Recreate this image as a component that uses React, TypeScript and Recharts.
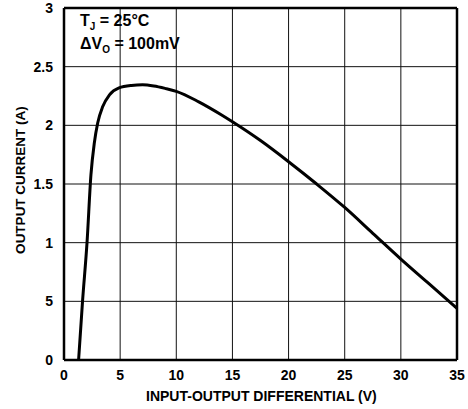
import { LineChart, Line, XAxis, YAxis, CartesianGrid, ReferenceLine } from "recharts";

const vin = [1.3, 1.65, 2.05, 2.4, 2.7, 3.0, 3.45, 4.05, 4.9, 6, 7, 8, 9, 10, 12, 14, 15, 17.5, 20, 22.5, 25, 27.5, 30, 32.5, 35];
const iout = [0, 0.5, 1.0, 1.58, 1.85, 2.02, 2.16, 2.26, 2.32, 2.34, 2.345, 2.335, 2.315, 2.29, 2.2, 2.09, 2.03, 1.87, 1.69, 1.5, 1.3, 1.08, 0.86, 0.65, 0.44];
const xTicks = [0, 5, 10, 15, 20, 25, 30, 35];
const yTicks = [0, 0.5, 1, 1.5, 2, 2.5, 3];
const yLabels = ["0", "5", "1", "1.5", "2", "2.5", "3"];

const data = vin.map((v, i) => ({ v, i: iout[i] }));
const font = "'Liberation Sans', Arial, sans-serif";

export default function App() {
  const tick = { fill: "#000", fontSize: 14, fontWeight: 700, fontFamily: font };
  return (
    <div style={{ position: "absolute", left: 0, top: 0, width: 468, height: 409, background: "#fff" }}>
      <LineChart width={468} height={409} data={data} margin={{ top: 8, right: 11, bottom: 0, left: 0 }}>
        <CartesianGrid stroke="#111" strokeWidth={1} horizontalValues={yTicks} verticalValues={xTicks} />
        <XAxis type="number" dataKey="v" domain={[0, 35]} ticks={xTicks} tickLine={false} height={49}
          axisLine={{ stroke: "#000", strokeWidth: 2.5 }} tick={tick} tickMargin={4} />
        <YAxis type="number" domain={[0, 3]} ticks={yTicks} tickLine={false} width={64}
          axisLine={{ stroke: "#000", strokeWidth: 2.5 }} tick={tick} tickMargin={5}
          tickFormatter={(v: number) => yLabels[yTicks.indexOf(v)]} />
        <ReferenceLine x={35} stroke="#000" strokeWidth={2.5} />
        <ReferenceLine y={3} stroke="#000" strokeWidth={2.5} />
        <Line type="monotone" dataKey="i" stroke="#000" strokeWidth={3} dot={false} isAnimationActive={false} />
      </LineChart>
      <div style={{ position: "absolute", left: 80, top: 10, fontFamily: font, fontWeight: 700, fontSize: 16, lineHeight: "21px", color: "#000", whiteSpace: "nowrap" }}>
        <div>T<span style={{ fontSize: 10, position: "relative", top: 4 }}>J</span> = 25°C</div>
        <div>ΔV<span style={{ fontSize: 10, position: "relative", top: 4 }}>O</span> = 100mV</div>
      </div>
      <div style={{ position: "absolute", left: 146, top: 388, fontFamily: font, fontWeight: 700, fontSize: 14, color: "#000", whiteSpace: "nowrap" }}>
        INPUT-OUTPUT DIFFERENTIAL (V)
      </div>
      <div style={{ position: "absolute", left: 20, top: 180, transform: "translate(-50%,-50%) rotate(-90deg)", fontFamily: font, fontWeight: 700, fontSize: 13.5, color: "#000", whiteSpace: "nowrap" }}>
        OUTPUT CURRENT (A)
      </div>
    </div>
  );
}
